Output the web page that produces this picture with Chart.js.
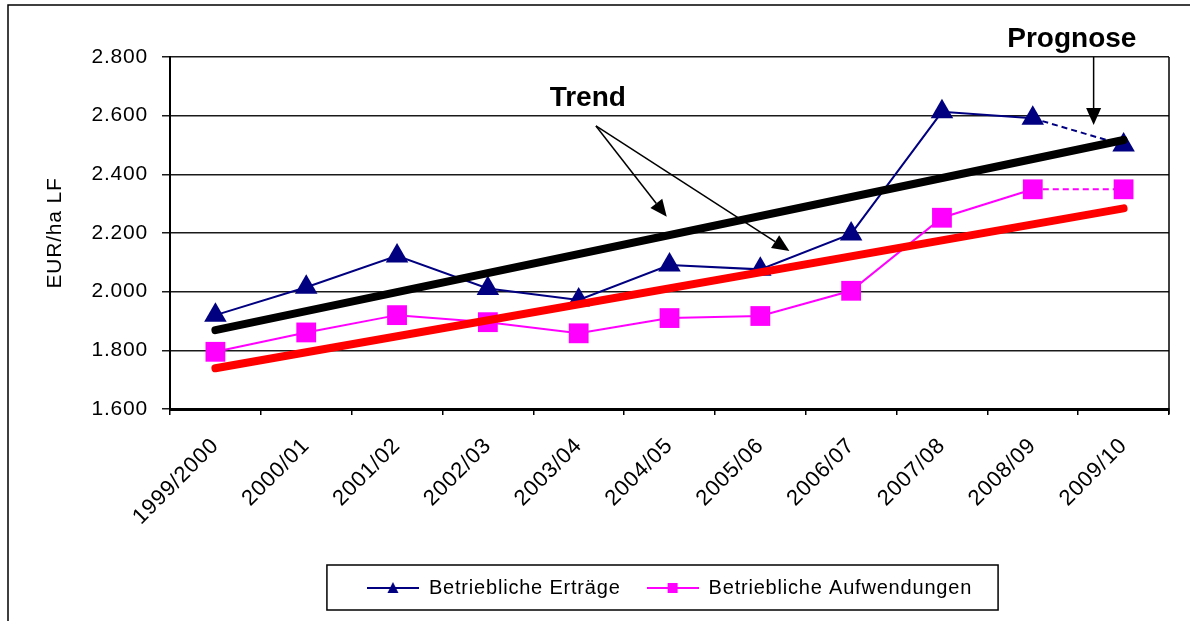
<!DOCTYPE html>
<html>
<head>
<meta charset="utf-8">
<script src="https://cdn.jsdelivr.net/npm/chart.js@4.4.1/dist/chart.umd.min.js"></script>
<style>
html,body{margin:0;padding:0;background:#fff;}
#wrap{width:1190px;height:621px;position:relative;}
canvas{display:block;}
</style>
</head>
<body>
<div id="wrap"><canvas id="c" width="1190" height="621"></canvas></div>
<script>
// ---- data ----
const categories = ['1999/2000','2000/01','2001/02','2002/03','2003/04','2004/05','2005/06','2006/07','2007/08','2008/09','2009/10'];
const ertraege     = [1920, 2015, 2122, 2011, 1972, 2091, 2076, 2197, 2613, 2591, 2500];
const aufwendungen = [1795, 1861, 1920, 1896, 1858, 1910, 1917, 2003, 2252, 2349, 2349];
const trendErtraege     = [1869, null, null, null, null, null, null, null, null, null, 2517];
const trendAufwendungen = [1739, null, null, null, null, null, null, null, null, null, 2284];
const yTicks = [1600, 1800, 2000, 2200, 2400, 2600, 2800];
const seriesNames = ['Betriebliche Erträge', 'Betriebliche Aufwendungen'];
const yTitle = 'EUR/ha LF';
const trendLabel = 'Trend';
const prognoseLabel = 'Prognose';
// annotation anchors in data coordinates (category index, value)
const trendText = [4.10, 2660];
const trendArrowFrom = [4.19, 2565];
const trendArrowTips = [[4.97, 2255], [6.32, 2139]];
const prognoseText = [9.43, 2861];
const prognoseArrow = [9.67, 2800, 2568];

const NAVY = '#000080', MAGENTA = '#FF00FF', RED = '#FF0000', BLACK = '#000000';

function fmt(v){ const t = Math.floor(v/1000), r = v % 1000; return t + '.' + String(r).padStart(3,'0'); }

function icon(color, shape){
  const c = document.createElement('canvas'); c.width = 52; c.height = 16;
  const g = c.getContext('2d');
  g.strokeStyle = color; g.lineWidth = 2;
  g.beginPath(); g.moveTo(0, 8); g.lineTo(52, 8); g.stroke();
  g.fillStyle = color;
  if (shape === 'tri') { g.beginPath(); g.moveTo(26, 2); g.lineTo(31.5, 13); g.lineTo(20.5, 13); g.closePath(); g.fill(); }
  else { g.fillRect(21, 3, 10, 10); }
  return c;
}
const legendIcons = [icon(NAVY, 'tri'), icon(MAGENTA, 'rect')];

Chart.defaults.font.family = '"Liberation Sans", Arial, Helvetica, sans-serif';
Chart.defaults.color = '#000';

const spacing = {
  id: 'spacing',
  beforeLayout(c){ c.ctx.letterSpacing = '0.8px'; },
  beforeDraw(c){ c.ctx.letterSpacing = '0.8px'; }
};

const extras = {
  id: 'extras',
  afterDraw(chart){
    const ctx = chart.ctx, xs = chart.scales.x, ys = chart.scales.y, ca = chart.chartArea;
    const X = i => xs.getPixelForValue(i), Y = v => ys.getPixelForValue(v);
    ctx.save();
    ctx.letterSpacing = '0px';
    // outer frame
    ctx.strokeStyle = '#000'; ctx.lineWidth = 1.5;
    ctx.strokeRect(8, 5, 1400, 900);
    // right plot border
    ctx.beginPath(); ctx.lineWidth = 1.5;
    ctx.moveTo(ca.right, ca.top); ctx.lineTo(ca.right, ca.bottom + 5); ctx.stroke();
    // arrows
    function arrow(x1, y1, x2, y2){
      const a = Math.atan2(y2 - y1, x2 - x1), L = 17, W = 7.5;
      const bx = x2 - L*Math.cos(a), by = y2 - L*Math.sin(a);
      ctx.strokeStyle = '#000'; ctx.lineWidth = 1.5;
      ctx.beginPath(); ctx.moveTo(x1, y1); ctx.lineTo(bx, by); ctx.stroke();
      ctx.fillStyle = '#000';
      ctx.beginPath(); ctx.moveTo(x2, y2);
      ctx.lineTo(bx + W*Math.sin(a), by - W*Math.cos(a));
      ctx.lineTo(bx - W*Math.sin(a), by + W*Math.cos(a));
      ctx.closePath(); ctx.fill();
    }
    trendArrowTips.forEach(t => arrow(X(trendArrowFrom[0]), Y(trendArrowFrom[1]), X(t[0]), Y(t[1])));
    arrow(X(prognoseArrow[0]), Y(prognoseArrow[1]), X(prognoseArrow[0]), Y(prognoseArrow[2]));
    // labels
    ctx.fillStyle = '#000'; ctx.textAlign = 'center'; ctx.textBaseline = 'middle';
    ctx.font = 'bold 28px "Liberation Sans", Arial, sans-serif';
    ctx.fillText(trendLabel, X(trendText[0]), Y(trendText[1]));
    ctx.fillText(prognoseLabel, X(prognoseText[0]), Y(prognoseText[1]));
    // legend box
    const hb = chart.legend && chart.legend.legendHitBoxes;
    if (hb && hb.length){
      const f = hb[0], l = hb[hb.length - 1];
      const cy = f.top + f.height/2;
      ctx.lineWidth = 1.5; ctx.strokeStyle = '#000';
      ctx.strokeRect(f.left - 40, cy - 23, (l.left + l.width + 26) - (f.left - 40), 45);
    }
    ctx.restore();
  }
};

new Chart(document.getElementById('c'), {
  type: 'line',
  data: {
    labels: categories,
    datasets: [
      { label: seriesNames[0], data: ertraege, borderColor: NAVY, backgroundColor: NAVY, borderWidth: 2,
        pointStyle: 'triangle', pointRadius: 13, pointBorderWidth: 0, order: 1,
        segment: { borderDash: c => c.p1DataIndex === 10 ? [6, 4] : undefined } },
      { label: seriesNames[1], data: aufwendungen, borderColor: MAGENTA, backgroundColor: MAGENTA, borderWidth: 2,
        pointStyle: 'rect', pointRadius: 14, pointBorderWidth: 0, order: 1,
        segment: { borderDash: c => c.p1DataIndex === 10 ? [6, 4] : undefined } },
      { label: 'TrendE', data: trendErtraege, borderColor: BLACK, borderWidth: 8, borderCapStyle: 'round',
        pointRadius: 0, spanGaps: true, order: 0 },
      { label: 'TrendA', data: trendAufwendungen, borderColor: RED, borderWidth: 8, borderCapStyle: 'round',
        pointRadius: 0, spanGaps: true, order: 0 }
    ]
  },
  options: {
    responsive: false,
    animation: false,
    devicePixelRatio: 1,
    events: [],
    layout: { padding: { top: 57, left: 0, right: 21, bottom: 13 } },
    plugins: {
      tooltip: { enabled: false },
      legend: {
        position: 'bottom', fullSize: false,
        labels: {
          usePointStyle: true, pointStyleWidth: 52, padding: 26,
          font: { size: 20 }, color: '#000',
          filter: it => it.datasetIndex < 2,
          generateLabels: chart => {
            const items = Chart.defaults.plugins.legend.labels.generateLabels(chart);
            return items.map(it => { if (it.datasetIndex < 2) it.pointStyle = legendIcons[it.datasetIndex]; return it; });
          }
        }
      }
    },
    scales: {
      x: {
        type: 'category', offset: true,
        grid: { display: true, offset: true, drawOnChartArea: false, drawTicks: true, tickLength: 6, color: '#000', lineWidth: 1.5 },
        border: { display: true, color: '#000', width: 3 },
        ticks: { autoSkip: false, maxRotation: 45, minRotation: 45, padding: 18, font: { size: 22 }, color: '#000' },
        afterFit: s => { s.height = 143; }
      },
      y: {
        min: 1600, max: 2800,
        afterBuildTicks: s => { s.ticks = yTicks.map(v => ({ value: v })); },
        ticks: { padding: 14, font: { size: 21 }, color: '#000', callback: v => fmt(v) },
        grid: { color: '#1a1a1a', lineWidth: 1.5, drawTicks: true, tickLength: 8 },
        border: { display: true, color: '#000', width: 2 },
        title: { display: true, text: yTitle, font: { size: 21 }, color: '#000', padding: { top: 43, bottom: 0 } },
        afterFit: s => { s.width = 170; }
      }
    }
  },
  plugins: [spacing, extras]
});
</script>
</body>
</html>
